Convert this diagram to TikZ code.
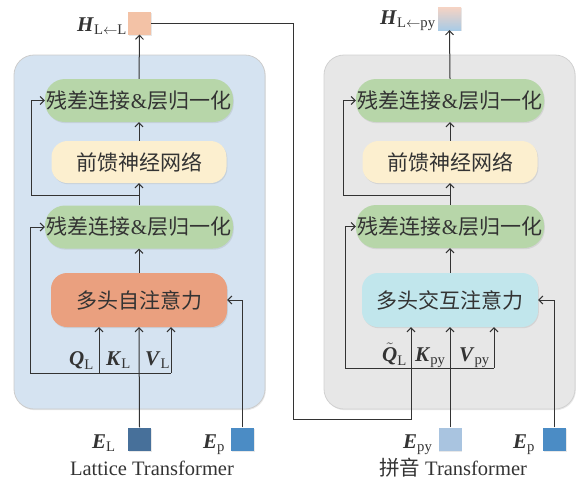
\documentclass[tikz,border=0pt]{standalone}
\usepackage{fontspec}
\usepackage{amsmath}
\setmainfont{Liberation Serif}
\newfontfamily\cjk{Noto Sans CJK SC}
\usetikzlibrary{arrows.meta,shadows}
\definecolor{panelA}{HTML}{D5E3F1}
\definecolor{panelB}{HTML}{E7E7E7}
\definecolor{lnc}{HTML}{B7D6A9}
\definecolor{ffnc}{HTML}{FCEFCF}
\definecolor{mhaA}{HTML}{EAA07F}
\definecolor{mhaB}{HTML}{C1E6EC}
\definecolor{hcol}{HTML}{F3C2A6}
\definecolor{eL}{HTML}{47709A}
\definecolor{eP}{HTML}{4B8CC5}
\definecolor{ePy}{HTML}{A9C4E0}
\definecolor{hpk}{HTML}{F6D3C3}
\definecolor{hbl}{HTML}{A9CBE6}
\definecolor{ink}{HTML}{333333}
\newcommand{\bi}[1]{\textbf{\textit{#1}}}
\tikzset{
  shad/.style={drop shadow={opacity=0.18,shadow xshift=0.8pt,shadow yshift=-1.2pt}},
  box/.style={inner sep=0pt, font=\cjk\fontsize{21}{25}\selectfont, text=ink, shad},
  lnbox/.style={box, fill=lnc, minimum width=188pt, minimum height=43pt, rounded corners=20pt},
  ffnbox/.style={box, fill=ffnc, minimum width=175pt, minimum height=42pt, rounded corners=16pt},
  mhabox/.style={box, minimum width=176pt, minimum height=54pt, rounded corners=16pt},
  sq/.style={minimum size=23pt, inner sep=0pt, shad},
  ln/.style={draw=ink, line width=1pt},
  arr/.style={ln, -{Straight Barb[length=4pt,width=8pt]}},
  lab/.style={font=\fontsize{21}{25}\selectfont, text=ink, inner sep=0pt, anchor=base west},
  ttl/.style={font=\fontsize{20.5}{24}\selectfont, text=ink, inner sep=0pt},
  panel/.style={rounded corners=20pt, line width=0.8pt, shad}
}
\begin{document}
\begin{tikzpicture}[x=1pt,y=-1pt]
\useasboundingbox (0,0) rectangle (577,482);
% panels
\draw[panel, fill=panelA, draw=black!20] (14,55) rectangle (265,409);
\draw[panel, fill=panelB, draw=black!18] (324,55) rectangle (575,409);

% ---------- left: Lattice Transformer ----------
\node[lnbox] (ln2L) at (139,100.5) {残差连接{\rmfamily\&}层归一化};
\node[ffnbox] (ffnL) at (139,162) {前馈神经网络};
\node[lnbox] (ln1L) at (139,227) {残差连接{\rmfamily\&}层归一化};
\node[mhabox, fill=mhaA] (mhaL) at (139,300) {多头自注意力};
\node[sq, fill=hcol] (HL) at (139.5,23) {};
\node[sq, fill=eL] (EL) at (139.5,439) {};
\node[sq, fill=eP] (EpL) at (242.5,439) {};

\node[lab] (hLlab) at (77,31) {$\bi{H}_{\text{L}\leftarrow\text{L}}$};
\node[lab] (qL) at (69,365) {$\bi{Q}_{\text{L}}$};
\node[lab] (kL) at (106,365) {$\bi{K}_{\text{L}}$};
\node[lab] (vL) at (145,365) {$\bi{V}_{\text{L}}$};
\node[lab] (eLlab) at (92,448) {$\bi{E}_{\text{L}}$};
\node[lab] (epLlab) at (203,448) {$\bi{E}_{\text{p}}$};
\node[ttl] (tL) at (152,468) {Lattice Transformer};

\coordinate (qbL) at (99,373);
\coordinate (vbL) at (171,373);
\coordinate (rbL) at (30,373);
\coordinate (r2L) at (139,195);
\draw[arr] (EL.north) -- (mhaL.south);
\draw[ln] (rbL) -- (vbL);
\draw[arr] (qbL) -- (qbL |- mhaL.south);
\draw[arr] (vbL) -- (vbL |- mhaL.south);
\draw[arr] (rbL) |- (ln1L.west);
\draw[arr] (EpL.north) |- (mhaL.east);
\draw[arr] (mhaL.north) -- (ln1L.south);
\draw[arr] (ln1L.north) -- (ffnL.south);
\draw[arr] (r2L) -- (31,195) |- (ln2L.west);
\draw[arr] (ffnL.north) -- (ln2L.south);
\draw[arr] (ln2L.north) -- (HL.south);

% ---------- right: Pinyin Transformer ----------
\node[lnbox] (ln2R) at (450,100.5) {残差连接{\rmfamily\&}层归一化};
\node[ffnbox] (ffnR) at (450,162) {前馈神经网络};
\node[lnbox] (ln1R) at (450,226.5) {残差连接{\rmfamily\&}层归一化};
\node[mhabox, fill=mhaB] (mhaR) at (450,300) {多头交互注意力};
\node[sq, top color=hpk, bottom color=hbl, middle color=hpk!50!hbl] (HR) at (449.5,18.5) {};
\node[sq, fill=ePy] (EpyR) at (450,439) {};
\node[sq, fill=eP] (EpR) at (554.5,439) {};

\node[lab] (hRlab) at (380,24) {$\bi{H}_{\text{L}\leftarrow\text{py}}$};
\node[lab] (qR) at (382,361) {$\tilde{\bi{Q}}_{\text{L}}$};
\node[lab] (kR) at (415,361) {$\bi{K}_{\text{py}}$};
\node[lab] (vR) at (459,361) {$\bi{V}_{\text{py}}$};
\node[lab] (epyRlab) at (403,448) {$\bi{E}_{\text{py}}$};
\node[lab] (epRlab) at (513,448) {$\bi{E}_{\text{p}}$};
\node[ttl] (tR) at (453,468) {{\cjk 拼音} Transformer};

\coordinate (vbR) at (494,368);
\coordinate (rbR) at (345,368);
\coordinate (r2R) at (450,195);
\coordinate (c1) at (293,23);
\coordinate (c2) at (293,419);
\coordinate (c3) at (411,419);
\draw[arr] (EpyR.north) -- (mhaR.south);
\draw[ln] (rbR) -- (vbR);
\draw[arr] (vbR) -- (vbR |- mhaR.south);
\draw[arr] (rbR) |- (ln1R.west);
\draw[arr] (HL.east) -- (c1) -- (c2) -- (c3) -- (c3 |- mhaR.south);
\draw[arr] (EpR.north) |- (mhaR.east);
\draw[arr] (mhaR.north) -- (ln1R.south);
\draw[arr] (ln1R.north) -- (ffnR.south);
\draw[arr] (r2R) -- (343,195) |- (ln2R.west);
\draw[arr] (ffnR.north) -- (ln2R.south);
\draw[arr] (ln2R.north) -- (HR.south);
\end{tikzpicture}
\end{document}
